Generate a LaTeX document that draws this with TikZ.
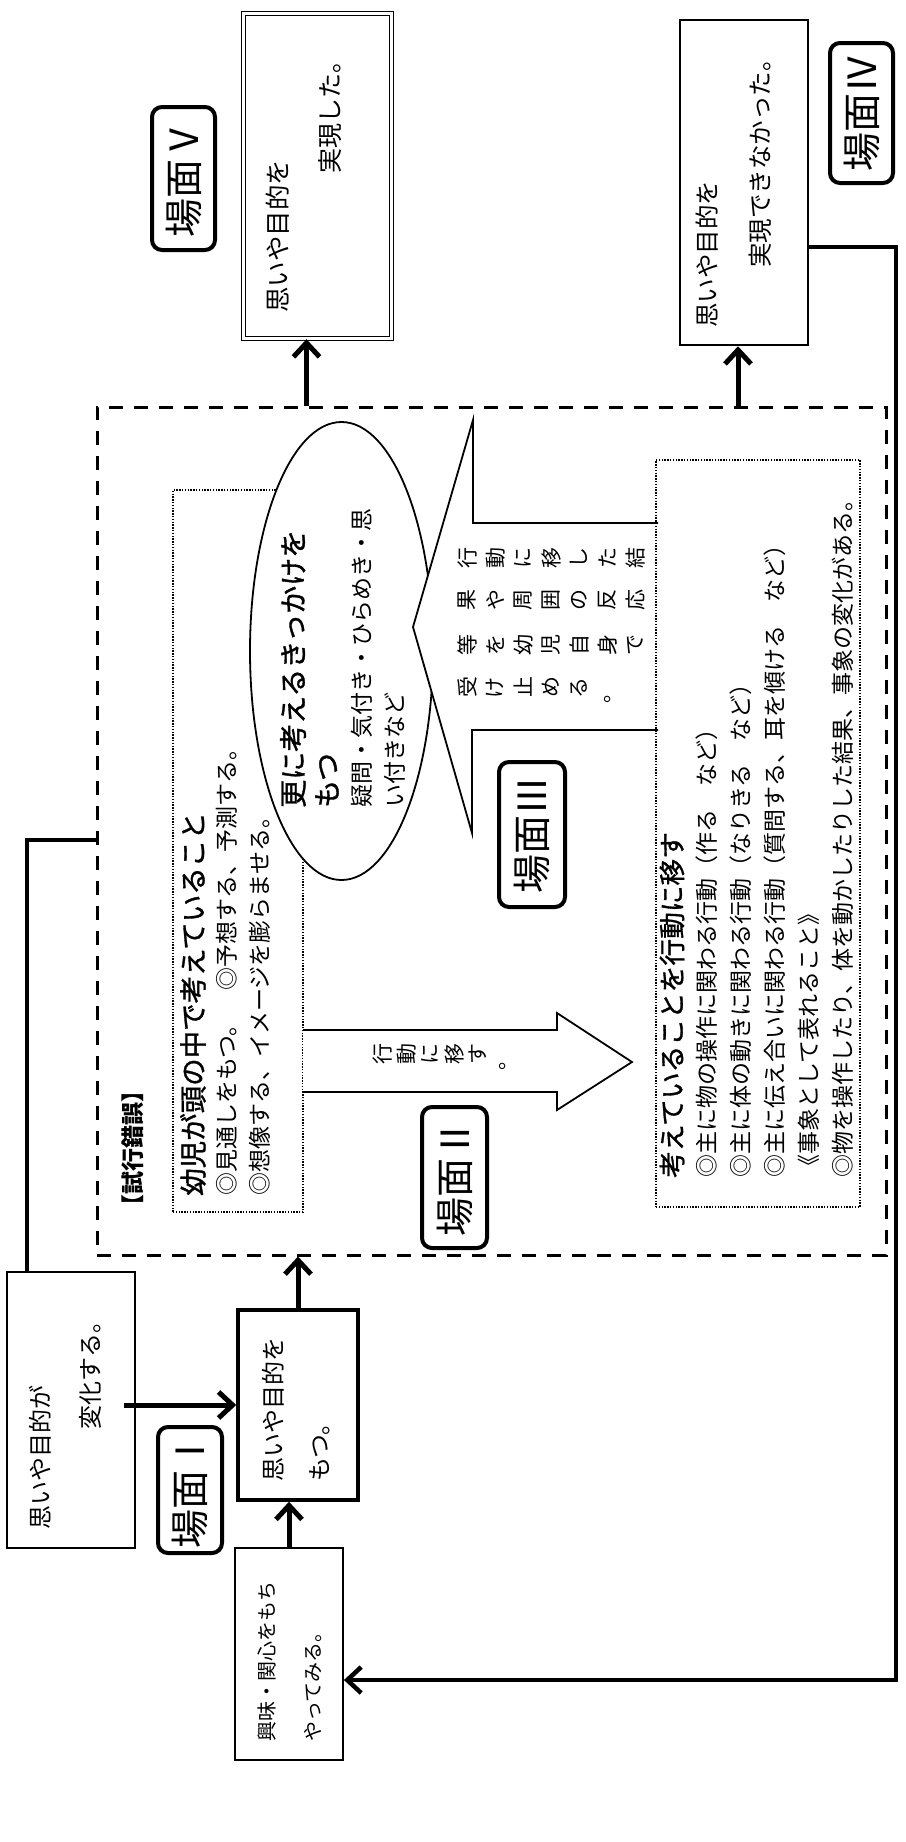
\documentclass[tikz,border=0pt]{standalone}
\usepackage{fontspec}
\usepackage{graphicx}
\setmainfont{Noto Sans CJK JP}
\newfontfamily\semib[FakeBold=1.2]{Noto Sans CJK JP}
\usetikzlibrary{arrows.meta,shapes.geometric,calc}
\newcommand\jfs[1]{\fontsize{#1}{#1}\selectfont}
\ExplSyntaxOn
\NewDocumentCommand\tatechars{O{28pt}m}{\tl_map_inline:nn{#2}{\makebox[#1]{\rotatebox[origin=c]{90}{##1}}}}
\ExplSyntaxOff
\begin{document}
\begin{tikzpicture}[x=1pt,y=-1pt,
  box/.style={draw, inner sep=0pt},
  lbl/.style={draw, line width=4pt, rounded corners=10pt, inner sep=0pt, font=\jfs{39}},
  vt/.style={rotate=90, anchor=west, inner sep=0pt},
  arr/.style={line width=5pt, -{Straight Barb[length=14pt,width=26pt]}},
  ln/.style={line width=4.5pt},
  dotbox/.style={draw, line width=1.4pt, dash pattern=on 1.4pt off 1.4pt, inner sep=0pt},
  shp/.style={draw, fill=white, line width=1.8pt, line join=miter},
]
\fill[white] (0,0) rectangle (905,1842);
\useasboundingbox (0,0) rectangle (905,1842);

% frames
\node[draw, line width=3pt, dash pattern=on 14pt off 11pt, minimum width=789pt, minimum height=848pt, inner sep=0pt] (D) at (491.5,831) {};
\node[dotbox, minimum width=130pt, minimum height=722pt] (T1) at (238,851) {};

% big arrow (scene II)
\draw[shp] (303,1030) -- (557,1030) -- (557,1013) -- (632,1062) -- (557,1110) -- (557,1092) -- (303,1092);

% ellipse and callout
\node[draw, ellipse, fill=white, line width=1.8pt, minimum width=183pt, minimum height=458pt, inner sep=0pt] (E) at (341.5,651) {};
\draw[shp] (658,523) -- (473,523) -- (473,420) -- (413,627) -- (472,833) -- (472,730) -- (658,730);
\node[dotbox, minimum width=204pt, minimum height=747pt] (T2) at (758,833.5) {};

% boxes
\node[box, line width=2.5pt, minimum width=128pt, minimum height=276pt] (A) at (71,1410) {};
\node[box, line width=3.5pt, minimum width=120pt, minimum height=190pt] (B) at (298,1405) {};
\node[box, line width=1.8pt, minimum width=108pt, minimum height=212pt] (C) at (289,1654) {};
\node[box, double, double distance=3pt, line width=1.4pt, minimum width=148pt, minimum height=325pt] (V) at (317.5,176) {};
\node[box, line width=2.5pt, minimum width=128pt, minimum height=325pt] (IV) at (744,182.5) {};

% scene labels
\node[lbl, rotate=90, minimum width=126pt, minimum height=64pt] (L1) at (190,1490) {場面Ⅰ};
\node[lbl, rotate=90, minimum width=141pt, minimum height=65pt] (L2) at (454.5,1177.5) {場面Ⅱ};
\node[lbl, rotate=90, minimum width=145pt, minimum height=66pt] (L3) at (532,834.5) {場面Ⅲ};
\node[lbl, rotate=90, minimum width=140pt, minimum height=63pt] (L4) at (861.5,113) {場面Ⅳ};
\node[lbl, rotate=90, minimum width=143pt, minimum height=63pt] (L5) at (183.5,178.5) {場面Ⅴ};

% box texts
\node[vt, font=\jfs{24}] (ta1) at (40,1530) {思いや目的が};
\node[vt, font=\jfs{24}] (ta2) at (90,1430) {変化する。};
\node[vt, font=\jfs{24}] (tb1) at (273,1482) {思いや目的を};
\node[vt, font=\jfs{24}] (tb2) at (320,1482) {もつ。};
\node[vt, font=\jfs{20}] (tc1) at (267,1742) {興味・関心をもち};
\node[vt, font=\jfs{20}] (tc2) at (313,1742) {やってみる。};
\node[vt, font=\jfs{25.5}] (tv1) at (278,313) {思いや目的を};
\node[vt, font=\jfs{25}] (tv2) at (330,174) {実現した。};
\node[vt, font=\jfs{24.5}] (td1) at (707,328) {思いや目的を};
\node[vt, font=\jfs{24.5}] (td2) at (760,268) {実現できなかった。};

\node[vt, font=\jfs{23}\bfseries] (tk) at (133,1218) {【試行錯誤】};

% thinking box
\node[vt, font=\semib\jfs{27.5}] (s1) at (193,1196) {幼児が頭の中で考えていること};
\node[vt, font=\jfs{23}] (s2) at (227,1196) {◎見通しをもつ。　◎予想する、予測する。};
\node[vt, font=\jfs{23}] (s3) at (260,1196) {◎想像する、イメージを膨らませる。};

% ellipse text
\node[vt, font=\semib\jfs{28}] (e1) at (293,808) {更に考えるきっかけを};
\node[vt, font=\semib\jfs{28}] (e2) at (327,808) {もつ};
\node[vt, font=\jfs{23}] (e3) at (362,808) {疑問・気付き・ひらめき・思};
\node[vt, font=\jfs{23}] (e4) at (395,808) {い付きなど};

% action box
\node[vt, font=\semib\jfs{26.7}] (u1) at (672,1178) {考えていることを行動に移す};
\node[vt, font=\jfs{23}] (u2) at (707,1178) {◎主に物の操作に関わる行動（作る　など）};
\node[vt, font=\jfs{23}] (u3) at (741,1178) {◎主に体の動きに関わる行動（なりきる　など）};
\node[vt, font=\jfs{23}] (u4) at (775,1178) {◎主に伝え合いに関わる行動（質問する、耳を傾ける　など）};
\node[vt, font=\jfs{23}] (u5) at (809,1178) {《事象として表れること》};
\node[vt, font=\jfs{23}] (u6) at (843,1178) {◎物を操作したり、体を動かしたりした結果、事象の変化がある。};

% callout text (vertical writing)
\node[anchor=west, inner sep=0pt, font=\jfs{21}] (r1) at (453,558) {\tatechars{行動に移した結}};
\node[anchor=west, inner sep=0pt, font=\jfs{21}] (r2) at (453,600) {\tatechars{果や周囲の反応}};
\node[anchor=west, inner sep=0pt, font=\jfs{21}] (r3) at (453,645) {\tatechars{等を幼児自身で}};
\node[anchor=west, inner sep=0pt, font=\jfs{21}] (r4) at (453,690) {\tatechars{受け止める。}};
\node[anchor=west, inner sep=0pt, font=\jfs{21}] (r5) at (370,1057) {\tatechars[24pt]{行動に移す。}};

% connectors
\draw[arr] ($(A.east |- B.west)+(-12,0)$) -- (B.west);
\draw[arr] (C.north) -- (C.north |- B.south);
\draw[arr] (B.north) -- (B.north |- D.south);
\draw[arr] ($(V.south |- D.north)+(-11,0)$) -- ($(V.south)+(-11,0)$);
\draw[arr] ($(IV.south |- D.north)+(-6,0)$) -- ($(IV.south)+(-6,0)$);
\coordinate (lk) at (27,840);
\draw[ln, line join=miter] (lk |- A.north) -- (lk) -- (D.west |- lk);
\coordinate (rt) at (896,247);
\coordinate (rb) at (896,1680);
\draw[arr, line width=4.5pt, line join=miter] (IV.east |- rt) -- (rt) -- (rb) -- (C.east |- rb);
\end{tikzpicture}
\end{document}
